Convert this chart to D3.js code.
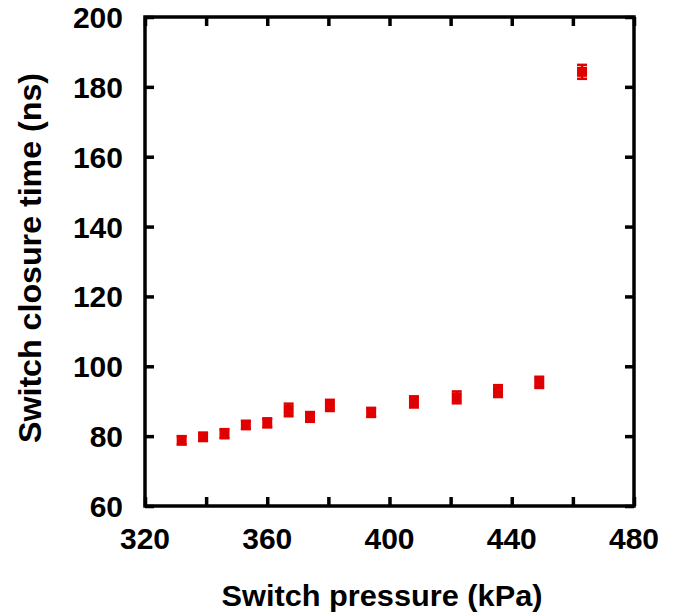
<!DOCTYPE html>
<html>
<head>
<meta charset="utf-8">
<script src="https://cdn.jsdelivr.net/npm/d3@7"></script>
<style>
  body { margin: 0; background: #fff; }
  text { font-family: "Liberation Sans", Arial, sans-serif; font-weight: bold; fill: #000; }
</style>
</head>
<body>
<div id="chart"></div>
<script>
// switch pressure (kPa)
var pressure = [332, 339, 346, 353, 360, 367, 374, 380.5, 394, 408, 422, 435.5, 449, 463];
// switch closure time (ns)
var closure = [78.8, 79.8, 80.7, 83.2, 83.8, 87.5, 85.5, 88.8, 86.8, 89.8, 91.1, 92.9, 95.4, 184.3];
var closureErr = [1.2, 1.2, 1.3, 1.2, 1.3, 1.8, 1.4, 1.6, 1.3, 1.6, 1.7, 1.7, 1.6, 2.0];

var xTicks = [320, 340, 360, 380, 400, 420, 440, 460, 480];
var xLabels = [320, 360, 400, 440, 480];
var yTicks = [60, 80, 100, 120, 140, 160, 180, 200];

var data = pressure.map(function(p, i) {
  return { p: p, t: closure[i], e: closureErr[i] };
});

var W = 676, H = 614;
var plotL = 145, plotR = 634, plotT = 17, plotB = 506;

var svg = d3.select('#chart').append('svg')
  .attr('width', W)
  .attr('height', H);

var x = d3.scaleLinear().domain([320, 480]).range([plotL, plotR]);
var y = d3.scaleLinear().domain([60, 200]).range([plotB, plotT]);

function styleAxis(g) {
  g.select('.domain').remove();
  g.selectAll('.tick line').attr('stroke', '#000').attr('stroke-width', 3.5);
}

// ticks on all four sides, pointing inward
svg.append('g')
  .attr('transform', 'translate(0,' + plotB + ')')
  .call(d3.axisTop(x).tickValues(xTicks).tickSize(9).tickFormat(''))
  .call(styleAxis);
svg.append('g')
  .attr('transform', 'translate(0,' + plotT + ')')
  .call(d3.axisBottom(x).tickValues(xTicks).tickSize(9).tickFormat(''))
  .call(styleAxis);
svg.append('g')
  .attr('transform', 'translate(' + plotL + ',0)')
  .call(d3.axisRight(y).tickValues(yTicks).tickSize(9).tickFormat(''))
  .call(styleAxis);
svg.append('g')
  .attr('transform', 'translate(' + plotR + ',0)')
  .call(d3.axisLeft(y).tickValues(yTicks).tickSize(9).tickFormat(''))
  .call(styleAxis);

// frame
svg.append('rect')
  .attr('x', plotL).attr('y', plotT)
  .attr('width', plotR - plotL).attr('height', plotB - plotT)
  .attr('fill', 'none')
  .attr('stroke', '#000')
  .attr('stroke-width', 3.5);

// tick labels
svg.append('g').selectAll('text')
  .data(xLabels)
  .enter().append('text')
  .attr('x', function(d) { return x(d); })
  .attr('y', 549)
  .attr('text-anchor', 'middle')
  .attr('font-size', 30)
  .text(function(d) { return d; });

svg.append('g').selectAll('text')
  .data(yTicks)
  .enter().append('text')
  .attr('x', 123)
  .attr('y', function(d) { return y(d) + 11; })
  .attr('text-anchor', 'end')
  .attr('font-size', 30)
  .text(function(d) { return d; });

// axis titles
svg.append('text')
  .attr('x', 382)
  .attr('y', 606)
  .attr('text-anchor', 'middle')
  .attr('font-size', 29)
  .attr('textLength', 321)
  .attr('lengthAdjust', 'spacingAndGlyphs')
  .text('Switch pressure (kPa)');

svg.append('text')
  .attr('transform', 'translate(41,258) rotate(-90)')
  .attr('text-anchor', 'middle')
  .attr('font-size', 31)
  .attr('textLength', 370)
  .attr('lengthAdjust', 'spacingAndGlyphs')
  .text('Switch closure time (ns)');

// points with error bars
var red = '#e00000';
var pts = svg.append('g').selectAll('g')
  .data(data)
  .enter().append('g');

pts.append('line')
  .attr('x1', function(d) { return x(d.p); })
  .attr('x2', function(d) { return x(d.p); })
  .attr('y1', function(d) { return y(d.t - d.e); })
  .attr('y2', function(d) { return y(d.t + d.e); })
  .attr('stroke', red).attr('stroke-width', 2.5);

pts.selectAll('.cap')
  .data(function(d) { return [d.t - d.e, d.t + d.e].map(function(v) { return { p: d.p, v: v }; }); })
  .enter().append('line')
  .attr('class', 'cap')
  .attr('x1', function(d) { return x(d.p) - 5; })
  .attr('x2', function(d) { return x(d.p) + 5; })
  .attr('y1', function(d) { return y(d.v); })
  .attr('y2', function(d) { return y(d.v); })
  .attr('stroke', red).attr('stroke-width', 2.5);

pts.append('rect')
  .attr('x', function(d) { return x(d.p) - 5; })
  .attr('y', function(d) { return y(d.t) - 5; })
  .attr('width', 10)
  .attr('height', 10)
  .attr('fill', red);
</script>
</body>
</html>
